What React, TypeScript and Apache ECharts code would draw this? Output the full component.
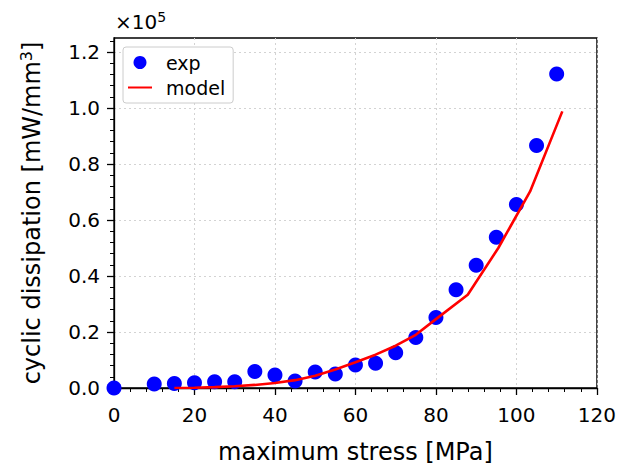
import React, { useEffect, useRef } from "react";
import * as echarts from "echarts";

const expX = [0, 10, 15, 20, 25, 30, 35, 40, 45, 50, 55, 60, 65, 70, 75, 80, 85, 90, 95, 100, 105, 110];
const expY = [0.0, 0.014, 0.016, 0.019, 0.022, 0.022, 0.059, 0.046, 0.025, 0.057, 0.05, 0.082, 0.088, 0.126, 0.18, 0.252, 0.351, 0.438, 0.538, 0.655, 0.866, 1.121];
const modelX = [15, 20, 25, 30, 35, 40, 45, 50, 55, 60, 65, 70, 75, 80, 87.9, 95.5, 103.4, 111.4];
const modelY = [0, 0.001, 0.003, 0.006, 0.011, 0.018, 0.028, 0.044, 0.066, 0.092, 0.119, 0.151, 0.19, 0.246, 0.333, 0.5, 0.702, 0.988];
const yTicks = [0, 0.2, 0.4, 0.6, 0.8, 1.0, 1.2];

const FONT = "DejaVu Sans";

export default function App() {
  const ref = useRef<HTMLDivElement>(null);
  useEffect(() => {
    if (!ref.current) return;
    const chart = echarts.init(ref.current, undefined, { renderer: "svg" });
    chart.setOption({
      animation: false,
      backgroundColor: "#fff",
      textStyle: { fontFamily: FONT },
      title: {
        text: "×10{sup|5}",
        left: 110,
        top: 5,
        textStyle: {
          fontFamily: FONT,
          fontSize: 20,
          fontWeight: "normal",
          color: "#000",
          rich: { sup: { fontFamily: FONT, fontSize: 14, verticalAlign: "top", padding: [0, 0, 10, 0], color: "#000" } },
        },
      },
      legend: {
        orient: "vertical",
        left: 123,
        top: 47,
        padding: [6, 8, 6, 4],
        itemGap: 6,
        itemWidth: 24,
        itemHeight: 13,
        backgroundColor: "#fff",
        borderColor: "#ccc",
        borderWidth: 1,
        borderRadius: 3,
        textStyle: { fontFamily: FONT, fontSize: 19, color: "#000", padding: [0, 0, 0, 9] },
        data: [
          { name: "exp", icon: "circle" },
          { name: "model", itemStyle: { opacity: 0, color: "rgba(0,0,0,0)", borderWidth: 0 } },
        ],
      },
      grid: {
        left: 114,
        right: 22,
        top: 38,
        bottom: 83,
        show: true,
        borderColor: "#000",
        borderWidth: 1.3,
        containLabel: false,
      },
      xAxis: {
        type: "value",
        min: 0,
        max: 120,
        interval: 20,
        name: "maximum stress [MPa]",
        nameLocation: "middle",
        nameGap: 52,
        nameTextStyle: { fontFamily: FONT, fontSize: 24, color: "#000" },
        axisLine: { show: true, onZero: false, lineStyle: { color: "#000", width: 1.3 } },
        axisTick: { show: true, inside: false, length: 7, lineStyle: { color: "#000", width: 1.3 } },
        minorTick: { show: true, splitNumber: 5, length: 4, lineStyle: { color: "#000", width: 1 } },
        axisLabel: { fontFamily: FONT, fontSize: 20, color: "#000", margin: 17 },
        splitLine: { show: true, lineStyle: { color: "#d3d3d3", type: [2, 3], width: 1 } },
      },
      yAxis: {
        type: "value",
        min: 0,
        max: 1.25,
        interval: 0.2,
        name: "cyclic dissipation [mW/mm{sup|3}]",
        nameLocation: "middle",
        nameGap: 68,
        nameRotate: 90,
        nameTextStyle: {
          fontFamily: FONT,
          fontSize: 24,
          color: "#000",
          rich: { sup: { fontFamily: FONT, fontSize: 16, verticalAlign: "top", padding: [0, 0, 12, 0], color: "#000" } },
        },
        axisLine: { show: true, onZero: false, lineStyle: { color: "#000", width: 1.3 } },
        axisTick: { show: true, inside: false, length: 7, customValues: yTicks, lineStyle: { color: "#000", width: 1.3 } },
        minorTick: { show: true, splitNumber: 5, length: 4, lineStyle: { color: "#000", width: 1 } },
        axisLabel: {
          fontFamily: FONT,
          fontSize: 20,
          color: "#000",
          margin: 14,
          customValues: yTicks,
          formatter: (v: number) => v.toFixed(1),
        },
        splitLine: { show: true, lineStyle: { color: "#d3d3d3", type: [2, 3], width: 1 } },
      },
      series: [
        {
          name: "exp",
          type: "scatter",
          data: expX.map((x, i) => [x, expY[i]]),
          symbol: "circle",
          symbolSize: 15,
          itemStyle: { color: "#0000ff", opacity: 1 },
          z: 2,
        },
        {
          name: "model",
          type: "line",
          data: modelX.map((x, i) => [x, modelY[i]]),
          showSymbol: false,
          symbol: "none",
          lineStyle: { color: "#ff0000", width: 2.6 },
          itemStyle: { color: "#ff0000" },
          z: 3,
        },
      ],
    });
    return () => chart.dispose();
  }, []);
  return <div ref={ref} style={{ width: 619, height: 471, position: "absolute", left: 0, top: 0 }} />;
}
